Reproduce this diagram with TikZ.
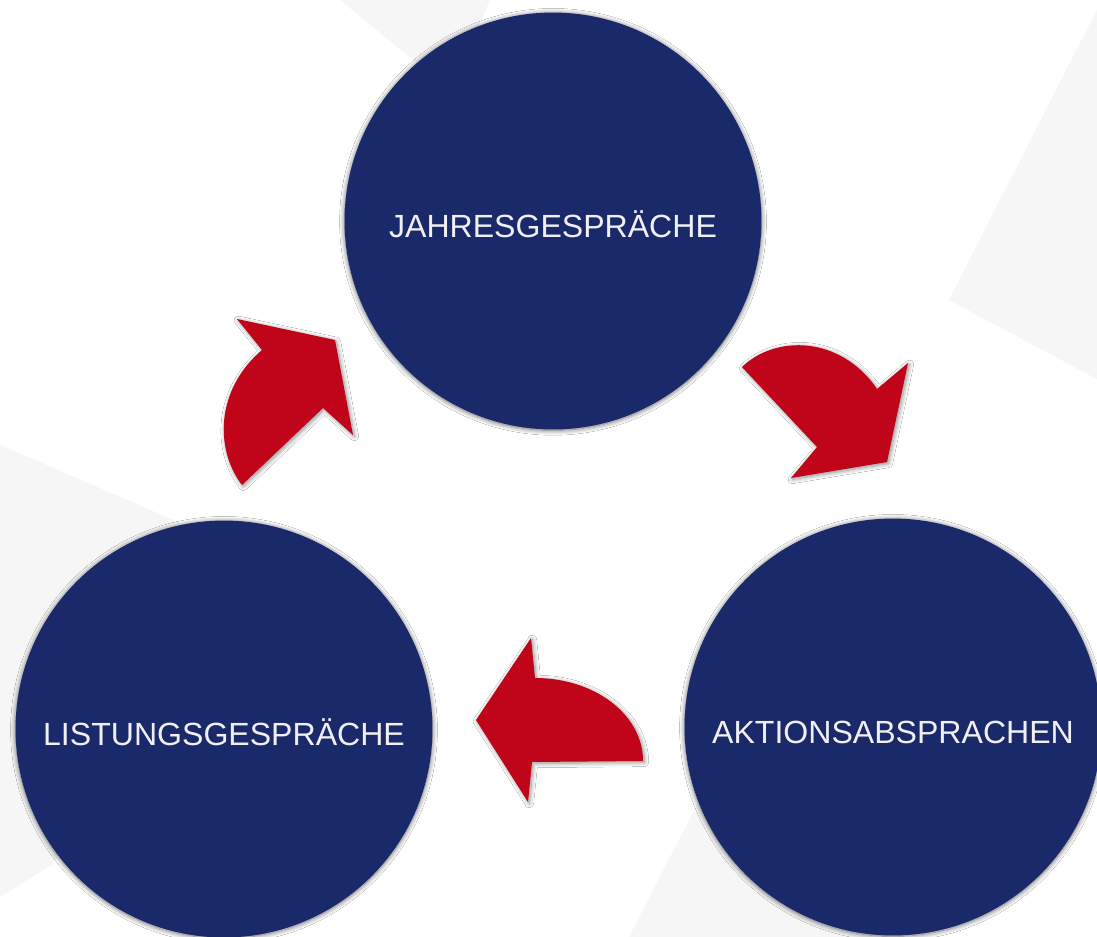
\documentclass[tikz,border=0pt]{standalone}
\usepackage{fontspec}
\setmainfont{Liberation Sans}
\usetikzlibrary{shadows.blur}
\definecolor{navy}{RGB}{25,41,106}
\definecolor{arrowred}{RGB}{192,4,26}
\definecolor{bggray}{RGB}{246,246,246}
\definecolor{textwhite}{RGB}{240,240,244}

\begin{document}
\begin{tikzpicture}[x=0.025cm,y=-0.025cm,
    phase/.style={circle, fill=navy, minimum size=10.42cm, inner sep=0pt, text=textwhite,
        font=\fontsize{22.8}{27}\selectfont, text height=23.7pt, text depth=0pt,
        blur shadow={shadow xshift=0pt, shadow yshift=-0.6pt, shadow blur radius=3.5pt,
            shadow blur steps=10, shadow opacity=60}},
    turn/.style={fill=arrowred, blur shadow={shadow xshift=1pt, shadow yshift=-1pt,
            shadow blur radius=3pt, shadow blur steps=8, shadow opacity=45}}]
    \useasboundingbox (0,0) rectangle (1097,937);
    \fill[white] (0,0) rectangle (1097,937);

    % faint background planes
    \begin{scope}
        \clip (0,0) rectangle (1097,937);
        \fill[bggray] (340,0) -- (490,0) -- (450,90) -- cycle;
        \fill[bggray] (949,300) -- (1102,0) -- (1110,0) -- (1110,386) -- cycle;
        \fill[bggray] (0,445) -- (250,553) -- (150,700) -- (53,864) -- (0,897) -- cycle;
        \fill[bggray] (629,937) -- (720,760) -- (900,900) -- (900,937) -- cycle;
    \end{scope}

    \node[phase](J) at (553,221) {JAHRESGESPRÄCHE};
    \node[phase](A) at (893,727) {AKTIONSABSPRACHEN};
    \node[phase](L) at (224,729) {LISTUNGSGESPRÄCHE};

    % curved block arrows
    \fill[turn] (242,485) .. controls (215,450) and (215,390) .. (262,350)
        -- (237,319) -- (335,340) -- (353,435) -- (323,408) -- cycle;
    \fill[turn] (742,367) .. controls (775,335) and (840,335) .. (877,389)
        -- (908,363) -- (887,462) -- (791,478) -- (817,447) -- cycle;
    \fill[turn] (643,761) .. controls (643,715) and (595,678) .. (535,678)
        -- (531,638) -- (476,720) -- (528,802) -- (532,762) -- cycle;
\end{tikzpicture}
\end{document}
